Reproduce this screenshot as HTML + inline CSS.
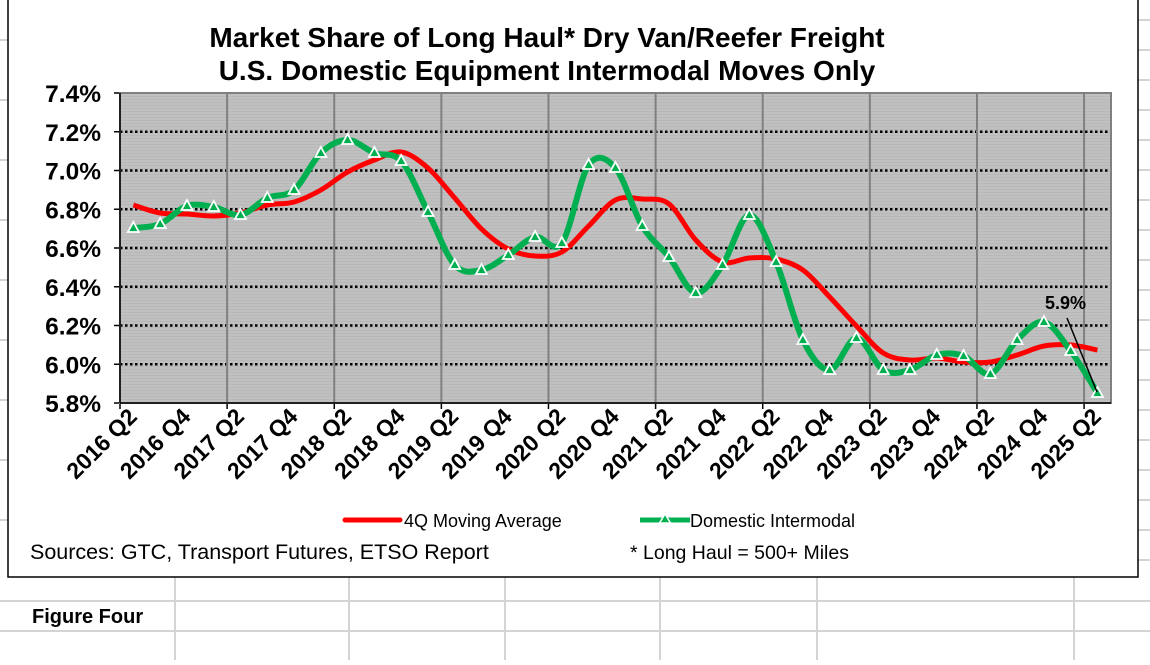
<!DOCTYPE html>
<html><head><meta charset="utf-8"><style>
html,body{margin:0;padding:0;background:#fff;}
body{width:1150px;height:660px;overflow:hidden;font-family:"Liberation Sans",Arial,sans-serif;}
</style></head><body>
<svg id="s" width="1150" height="660" xmlns="http://www.w3.org/2000/svg" font-family="Liberation Sans, Arial, sans-serif">
<defs>
<pattern id="st" width="4" height="3" patternUnits="userSpaceOnUse"><rect width="4" height="3" fill="#c0c0c0"/><rect width="4" height="1" fill="#b8b8b8"/></pattern>
</defs>
<g stroke="#d4d4d4" stroke-width="2">
<line x1="0" y1="601" x2="1150" y2="601"/><line x1="0" y1="631" x2="1150" y2="631"/>
<line x1="175" y1="577" x2="175" y2="660"/><line x1="349" y1="577" x2="349" y2="660"/><line x1="505" y1="577" x2="505" y2="660"/>
<line x1="660" y1="577" x2="660" y2="660"/><line x1="817" y1="577" x2="817" y2="660"/><line x1="1074" y1="577" x2="1074" y2="660"/>
<line x1="1138" y1="20" x2="1150" y2="20"/><line x1="1138" y1="50" x2="1150" y2="50"/><line x1="1138" y1="80" x2="1150" y2="80"/><line x1="1138" y1="110" x2="1150" y2="110"/><line x1="1138" y1="140" x2="1150" y2="140"/><line x1="1138" y1="170" x2="1150" y2="170"/><line x1="1138" y1="200" x2="1150" y2="200"/><line x1="1138" y1="230" x2="1150" y2="230"/><line x1="1138" y1="260" x2="1150" y2="260"/><line x1="1138" y1="290" x2="1150" y2="290"/><line x1="1138" y1="320" x2="1150" y2="320"/><line x1="1138" y1="350" x2="1150" y2="350"/><line x1="1138" y1="380" x2="1150" y2="380"/><line x1="1138" y1="410" x2="1150" y2="410"/><line x1="1138" y1="440" x2="1150" y2="440"/><line x1="1138" y1="470" x2="1150" y2="470"/><line x1="1138" y1="500" x2="1150" y2="500"/><line x1="1138" y1="530" x2="1150" y2="530"/><line x1="1138" y1="560" x2="1150" y2="560"/>
<line x1="0" y1="40" x2="8" y2="40"/><line x1="0" y1="100" x2="8" y2="100"/><line x1="0" y1="160" x2="8" y2="160"/><line x1="0" y1="220" x2="8" y2="220"/><line x1="0" y1="280" x2="8" y2="280"/><line x1="0" y1="340" x2="8" y2="340"/><line x1="0" y1="400" x2="8" y2="400"/><line x1="0" y1="460" x2="8" y2="460"/><line x1="0" y1="520" x2="8" y2="520"/>
</g>
<rect x="8" y="-2" width="1130" height="579" fill="#fff" stroke="#000" stroke-width="1.5"/>
<text x="547" y="47" text-anchor="middle" font-size="28" font-weight="bold">Market Share of Long Haul* Dry Van/Reefer Freight</text>
<text x="547" y="80" text-anchor="middle" font-size="28" font-weight="bold">U.S. Domestic Equipment Intermodal Moves Only</text>
<rect x="120" y="93" width="991" height="310" fill="url(#st)"/>
<g id="grid"></g>
<rect x="120" y="93" width="991" height="310" fill="none" stroke="#808080" stroke-width="2"/>
<line x1="120" y1="93" x2="120" y2="403" stroke="#000" stroke-width="1.5"/>
<line x1="120" y1="403" x2="1111" y2="403" stroke="#000" stroke-width="1.5"/>
<g id="ylab" font-size="24.5" font-weight="bold" text-anchor="end"></g>
<g id="xlab" font-size="23" font-weight="bold" text-anchor="end"></g>
<path id="red" fill="none" stroke="#ff0000" stroke-width="5" stroke-linejoin="round"/>
<path id="grn" fill="none" stroke="#00b050" stroke-width="6" stroke-linejoin="round"/>
<g id="mk"></g>
<text x="1045" y="309" font-size="18" font-weight="bold">5.9%</text>
<line x1="1067" y1="318" x2="1097" y2="392" stroke="#000" stroke-width="1.5"/>
<line x1="345" y1="520" x2="400" y2="520" stroke="#ff0000" stroke-width="5" stroke-linecap="round"/>
<text x="404" y="527" font-size="18">4Q Moving Average</text>
<line x1="640" y1="520" x2="690" y2="520" stroke="#00b050" stroke-width="5"/>
<polygon points="665,514 670.5,523 659.5,523" fill="#00b050" stroke="#fff" stroke-width="1.5"/>
<text x="690" y="527" font-size="18">Domestic Intermodal</text>
<text x="30" y="559" font-size="21.5">Sources: GTC, Transport Futures, ETSO Report</text>
<text x="630" y="559" font-size="19.5">* Long Haul = 500+ Miles</text>
<text x="32" y="623" font-size="20" font-weight="bold">Figure Four</text>
</svg>
<script>
var NS="http://www.w3.org/2000/svg";
function el(p,t,a,txt){var e=document.createElementNS(NS,t);for(var k in a)e.setAttribute(k,a[k]);if(txt)e.textContent=txt;document.getElementById(p).appendChild(e);return e;}
var x0=120,dx=26.78;
for(var i=1;i<8;i++){var y=93+i*38.75;el("grid","line",{x1:120,x2:1111,y1:y,y2:y,stroke:"#000","stroke-width":2.5,"stroke-dasharray":"2.5 2.5"});}
for(var i=4;i<37;i+=4){var x=x0+i*dx;el("grid","line",{x1:x,x2:x,y1:93,y2:403,stroke:"#808080","stroke-width":2});}
for(var i=0;i<37;i+=4){var x=x0+i*dx;el("grid","line",{x1:x,x2:x,y1:403,y2:409,stroke:"#000","stroke-width":1.5});}
for(var i=0;i<=8;i++){var y=93+i*38.75;el("grid","line",{x1:114,x2:120,y1:y,y2:y,stroke:"#000","stroke-width":1.5});
el("ylab","text",{x:101,y:y+9},(7.4-i*0.2).toFixed(1)+"%");}
for(var i=0;i<37;i+=2){var yr=2016+Math.floor((i+1)/4);var q=(i%4==0)?"Q2":"Q4";var cx=x0+dx*(i+0.5)+5;
el("xlab","text",{x:cx,y:418,transform:"rotate(-45 "+cx+" 418)"},yr+" "+q);}
var G=[228,224,206,207,215,198,190,153,140,153,161,212,265,270,255,237,243,165,168,226,257,293,265,215,262,340,370,338,370,370,355,356,374,340,322,351,393];
var R=[205,213,214,216,213,205,202,190,172,160,152,168,198,229,249,256,252,226,200,199,204,240,262,258,259,270,297,326,353,360,358,362,362,355,346,345,350];
function path(Y){var P=Y.map(function(y,i){return[x0+dx*(i+0.5),y];});var d="M"+P[0][0]+","+P[0][1];
for(var i=0;i<P.length-1;i++){var p0=P[i-1]||P[i],p1=P[i],p2=P[i+1],p3=P[i+2]||P[i+1];var t=6;
d+=" C"+(p1[0]+(p2[0]-p0[0])/t)+","+(p1[1]+(p2[1]-p0[1])/t)+" "+(p2[0]-(p3[0]-p1[0])/t)+","+(p2[1]-(p3[1]-p1[1])/t)+" "+p2[0]+","+p2[1];}return d;}
document.getElementById("red").setAttribute("d",path(R));
document.getElementById("grn").setAttribute("d",path(G));
G.forEach(function(y,i){var x=x0+dx*(i+0.5);el("mk","polygon",{points:x+","+(y-6)+" "+(x+5.5)+","+(y+4)+" "+(x-5.5)+","+(y+4),fill:"#00b050",stroke:"#fff","stroke-width":1.8});});
</script>
</body></html>
